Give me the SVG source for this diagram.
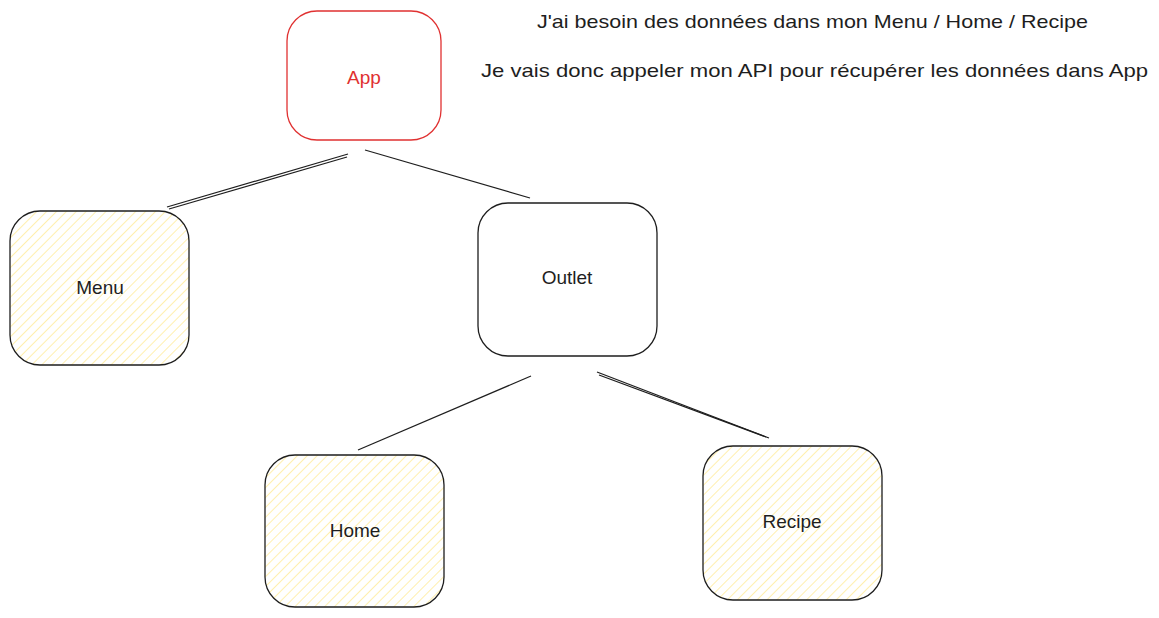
<svg xmlns="http://www.w3.org/2000/svg" width="1159" height="618" viewBox="0 0 1159 618">
<style>
.box{stroke:#1e1e1e;stroke-width:1.3;fill:url(#hach)}
.plain{stroke:#1e1e1e;stroke-width:1.3;fill:#fff}
.red{stroke:#e03131;stroke-width:1.3;fill:#fff}
.lbl{font-family:"Liberation Sans",sans-serif;font-size:19px;fill:#1e1e1e;text-anchor:middle}
.note{font-family:"Liberation Sans",sans-serif;font-size:19px;fill:#1e1e1e}
.conn line{stroke:#1e1e1e;stroke-width:1.2}
</style>
<defs>
<pattern id="hach" width="7" height="7" patternUnits="userSpaceOnUse" patternTransform="rotate(45)">
<rect width="7" height="7" fill="#fff"/>
<line x1="0" y1="0" x2="0" y2="7" stroke="#ffec99" stroke-width="1.6"/>
</pattern>
</defs>
<rect width="1159" height="618" fill="#fff"/>
<g id="connectors" class="conn">
<line x1="348" y1="154" x2="167" y2="207"/>
<line x1="347" y1="157" x2="169" y2="209"/>
<line x1="365" y1="150" x2="530" y2="198"/>
<line x1="531" y1="376" x2="358" y2="450"/>
<line x1="597" y1="372" x2="769" y2="438"/>
<line x1="599" y1="375" x2="766" y2="437"/>
</g>
<g id="app">
<rect class="red" x="287" y="11" width="154" height="129" rx="30"/>
<text class="lbl" x="364" y="84" style="fill:#e03131">App</text>
</g>
<g id="menu">
<rect class="box" x="10" y="211" width="179" height="154" rx="30"/>
<text class="lbl" x="100" y="294">Menu</text>
</g>
<g id="outlet">
<rect class="plain" x="478" y="203" width="179" height="153" rx="30"/>
<text class="lbl" x="567" y="284">Outlet</text>
</g>
<g id="home">
<rect class="box" x="265" y="455" width="179" height="152" rx="30"/>
<text class="lbl" x="355" y="537">Home</text>
</g>
<g id="recipe">
<rect class="box" x="703" y="446" width="179" height="154" rx="30"/>
<text class="lbl" x="792" y="528">Recipe</text>
</g>
<g id="notes">
<text class="note" x="537" y="28" textLength="551" lengthAdjust="spacingAndGlyphs">J'ai besoin des données dans mon Menu / Home / Recipe</text>
<text class="note" x="481" y="77" textLength="667" lengthAdjust="spacingAndGlyphs">Je vais donc appeler mon API pour récupérer les données dans App</text>
</g>
</svg>
